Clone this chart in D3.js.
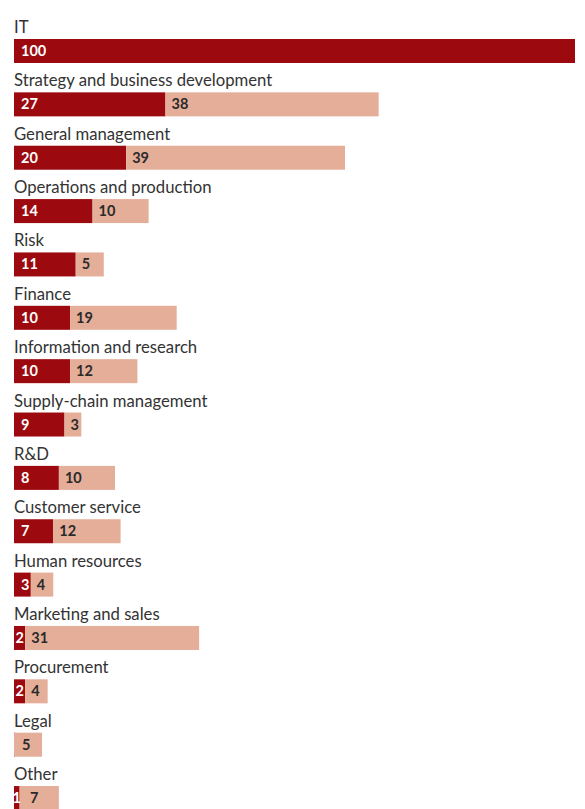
<!DOCTYPE html>
<html>
<head>
<meta charset="utf-8">
<script src="https://cdn.jsdelivr.net/npm/d3@7"></script>
<style>
  html, body { margin: 0; padding: 0; background: #fff; }
  svg { display: block; }
</style>
</head>
<body>
<svg id="chart" width="585" height="809"></svg>
<script>
// Functions, ranked
const categories = [
  "IT", "Strategy and business development", "General management",
  "Operations and production", "Risk", "Finance", "Information and research",
  "Supply-chain management", "R&D", "Customer service", "Human resources",
  "Marketing and sales", "Procurement", "Legal", "Other"
];
const seriesA = [100, 27, 20, 14, 11, 10, 10, 9, 8, 7, 3, 2, 2, 0, 1];
const seriesB = [0, 38, 39, 10, 5, 19, 12, 3, 10, 12, 4, 31, 4, 5, 7];

const colorA = "#9c0a0f";
const colorB = "#e4ae99";

const svg = d3.select("#chart");
const left = 14, right = 575;
const firstBarTop = 39, step = 53.36, barH = 24;

const x = d3.scaleLinear().domain([0, 100]).range([left, right]);
const y = d3.scaleBand()
  .domain(categories)
  .range([firstBarTop, firstBarTop + step * categories.length])
  .paddingInner(0);

const rows = svg.selectAll("g.row")
  .data(categories.map((c, i) => ({ c, a: seriesA[i], b: seriesB[i] })))
  .join("g")
  .attr("class", "row")
  .attr("transform", d => `translate(0,${y(d.c)})`);

// category label above the bar
rows.append("text")
  .attr("x", left)
  .attr("y", -6)
  .attr("fill", "#333")
  .style("font-family", "Lato, 'Open Sans', sans-serif")
  .style("font-size", "16.7px")
  .text(d => d.c);

// dark segment
rows.append("rect")
  .attr("x", x(0))
  .attr("y", 0)
  .attr("width", d => Math.max(x(d.a) - x(0), d.a === 0 ? 1 : 0))
  .attr("height", barH)
  .attr("fill", colorA);

// light segment
rows.filter(d => d.b > 0).append("rect")
  .attr("x", d => x(d.a))
  .attr("y", 0)
  .attr("width", d => x(d.a + d.b) - x(d.a))
  .attr("height", barH)
  .attr("fill", colorB);

const narrow = d => (x(d.a) - x(0)) < 16;

rows.filter(d => d.a > 0).append("text")
  .attr("x", d => narrow(d) ? (x(0) + x(d.a)) / 2 : x(0) + 7)
  .attr("y", 17)
  .attr("text-anchor", d => narrow(d) ? "middle" : "start")
  .attr("fill", "#fff")
  .style("font-family", "Lato, 'Open Sans', sans-serif")
  .style("font-weight", "bold")
  .style("font-size", "14.5px")
  .text(d => d.a);

// light labels keep clear of the dark label in very short dark segments
rows.filter(d => d.b > 0).append("text")
  .attr("x", d => d.a === 0 ? x(0) + 8 : Math.max(x(d.a) + 6, x(0) + 16))
  .attr("y", 17)
  .attr("fill", "#2a2a2a")
  .style("font-family", "Lato, 'Open Sans', sans-serif")
  .style("font-weight", "bold")
  .style("font-size", "14.5px")
  .text(d => d.b);
</script>
</body>
</html>
